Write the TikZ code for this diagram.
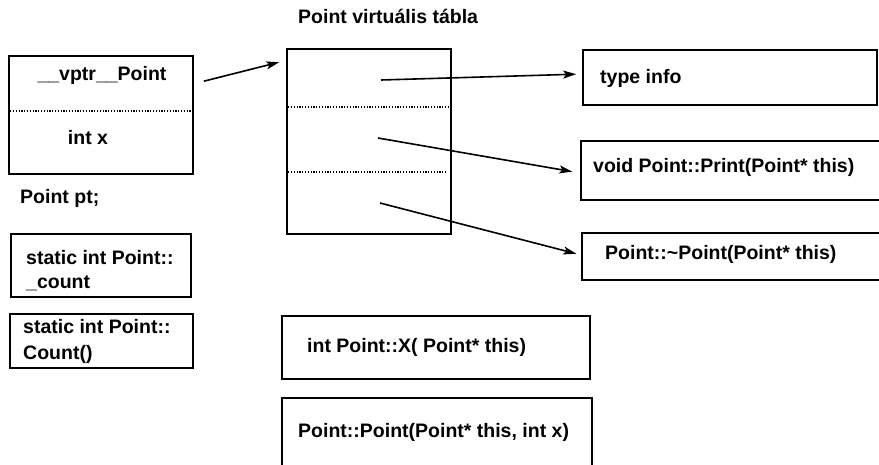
\documentclass[tikz,border=0pt]{standalone}
\usepackage{fontspec}
\setmainfont{Liberation Sans}
\usetikzlibrary{arrows.meta}

\tikzset{
  box/.style={draw, line width=1.6pt, inner sep=0pt},
  sep/.style={line width=1.1pt, dash pattern=on 1.2pt off 1.6pt},
  ptr/.style={line width=1.6pt, -{Stealth[length=13pt, width=8pt, inset=3pt]}},
  lbl/.style={inner sep=0pt, font=\fontsize{19.5}{25}\selectfont\bfseries},
}

\begin{document}
\begin{tikzpicture}[x=1pt, y=-1pt]
  \useasboundingbox (0,0) rectangle (879,464);

  % object layout of "Point pt;"
  \node[box, minimum width=184pt, minimum height=118pt] (ptbox) at (101,115) {};
  \draw[sep] ([yshift=4pt, xshift=2pt]ptbox.west) -- ([yshift=4pt, xshift=-2pt]ptbox.east);
  \node[lbl, anchor=base] (vptr) at (102,80) {\_\_vptr\_\_Point};
  \node[lbl, anchor=base] (intx) at (88,144) {int x};
  \node[lbl, anchor=base west] (ptname) at (20,203) {Point pt;};

  % static members (base anchor of a multi-line label sits on its last line)
  \node[box, minimum width=180pt, minimum height=63pt] (countvar) at (101,265.5) {};
  \node[lbl, anchor=base west, align=left, font=\fontsize{19.5}{24}\selectfont\bfseries] (countvartxt) at (26,288) {static int Point::\\\_count};
  \node[box, minimum width=183pt, minimum height=54pt] (countfn) at (101.5,341) {};
  \node[lbl, anchor=base west, align=left, font=\fontsize{19.5}{26}\selectfont\bfseries] (countfntxt) at (23,359) {static int Point::\\Count()};

  % virtual table
  \node[lbl, anchor=base west] (vttitle) at (298,23) {Point virtuális tábla};
  \node[box, minimum width=164pt, minimum height=185pt] (vtable) at (369,141.5) {};
  \draw[sep] ([yshift=34.5pt, xshift=2pt]vtable.west) -- ([yshift=34.5pt, xshift=-3pt]vtable.east);
  \draw[sep] ([yshift=-30.5pt, xshift=2pt]vtable.west) -- ([yshift=-30.5pt, xshift=-5pt]vtable.east);
  \coordinate (slot1) at (381,80);
  \coordinate (slot2) at (378,138);
  \coordinate (slot3) at (380,203);

  % targets of the table entries
  \node[box, minimum width=294pt, minimum height=55pt] (typebox) at (730,77.5) {};
  \node[lbl, anchor=base west] (typetxt) at (600,83) {type info};
  \node[box, minimum width=319pt, minimum height=59pt] (printbox) at (740.5,170.5) {};
  \node[lbl, anchor=base west] (printtxt) at (593,172.5) {void Point::Print(Point* this)};
  \node[box, minimum width=318pt, minimum height=47pt] (dtorbox) at (741,256.5) {};
  \node[lbl, anchor=base west] (dtortxt) at (605,259.5) {Point::\char"7E Point(Point* this)};

  % non-virtual member functions
  \node[box, minimum width=308pt, minimum height=63pt] (xbox) at (436,347.5) {};
  \node[lbl, anchor=base west] (xtxt) at (307,352.5) {int Point::X( Point* this)};
  \node[box, minimum width=310pt, minimum height=82pt] (ctorbox) at (437,439) {};
  \node[lbl, anchor=base west] (ctortxt) at (298,437.5) {Point::Point(Point* this, int x)};

  % pointers
  \draw[ptr] ([xshift=10pt, yshift=-26pt]ptbox.north east) -- ([xshift=-7pt, yshift=-14pt]vtable.north west);
  \draw[ptr, shorten >=6pt] (slot1) -- ([yshift=3.5pt]typebox.west);
  \draw[ptr, shorten >=8pt] (slot2) -- ([yshift=-2.5pt]printbox.west);
  \draw[ptr, shorten >=5pt] (slot3) -- ([yshift=1.5pt]dtorbox.west);
\end{tikzpicture}
\end{document}
